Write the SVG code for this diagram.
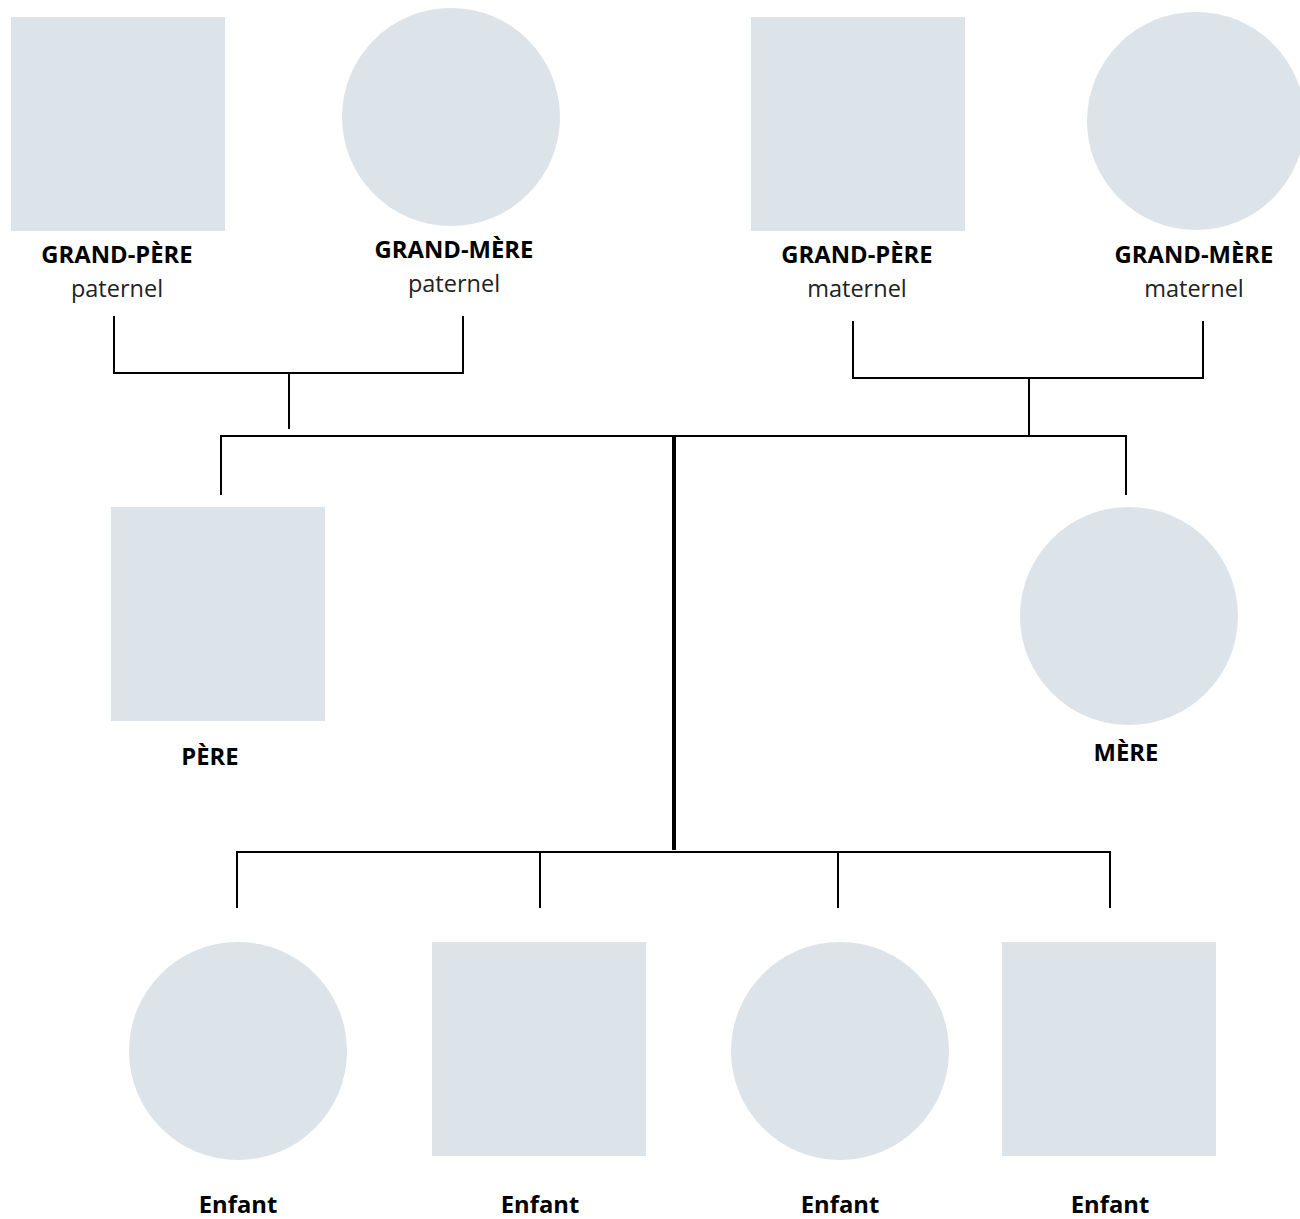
<svg xmlns="http://www.w3.org/2000/svg" width="1300" height="1219" viewBox="0 0 1300 1219">
<style>
.shape{fill:#dce4ea}
.b{font-family:"Open Sans","Liberation Sans",sans-serif;font-weight:bold;font-size:23.8px;fill:#000;text-anchor:middle}
.r{font-family:"Open Sans","Liberation Sans",sans-serif;font-size:23.5px;fill:#222;text-anchor:middle}
.ln{stroke:#000;stroke-width:2;fill:none}
.thick{stroke:#000;stroke-width:4;fill:none}
</style>
<rect width="1300" height="1219" fill="#fff"/>
<g id="connectors">
<path class="ln" d="M114 316V373H463V316M289 373V429"/>
<path class="ln" d="M853 321V378H1203V321M1029 378V436"/>
<path class="ln" d="M221 495V436H1126V495"/>
<path class="thick" d="M674 436V850"/>
<path class="ln" d="M237 908V852H1110V908M540 852V908M838 852V908"/>
</g>
<g id="gp-paternel"><rect class="shape" x="11" y="17" width="214" height="214"/><text class="b" x="117" y="263">GRAND-PÈRE</text><text class="r" x="117" y="297">paternel</text></g>
<g id="gm-paternel"><circle class="shape" cx="451" cy="117" r="109"/><text class="b" x="454" y="258">GRAND-MÈRE</text><text class="r" x="454" y="292">paternel</text></g>
<g id="gp-maternel"><rect class="shape" x="751" y="17" width="214" height="214"/><text class="b" x="857" y="263">GRAND-PÈRE</text><text class="r" x="857" y="297">maternel</text></g>
<g id="gm-maternel"><circle class="shape" cx="1196" cy="121" r="109"/><text class="b" x="1194" y="263">GRAND-MÈRE</text><text class="r" x="1194" y="297">maternel</text></g>
<g id="pere"><rect class="shape" x="111" y="507" width="214" height="214"/><text class="b" x="210" y="765">PÈRE</text></g>
<g id="mere"><circle class="shape" cx="1129" cy="616" r="109"/><text class="b" x="1126" y="761">MÈRE</text></g>
<g id="enfant1"><circle class="shape" cx="238" cy="1051" r="109"/><text class="b" x="238" y="1213">Enfant</text></g>
<g id="enfant2"><rect class="shape" x="432" y="942" width="214" height="214"/><text class="b" x="540" y="1213">Enfant</text></g>
<g id="enfant3"><circle class="shape" cx="840" cy="1051" r="109"/><text class="b" x="840" y="1213">Enfant</text></g>
<g id="enfant4"><rect class="shape" x="1002" y="942" width="214" height="214"/><text class="b" x="1110" y="1213">Enfant</text></g>
</svg>
